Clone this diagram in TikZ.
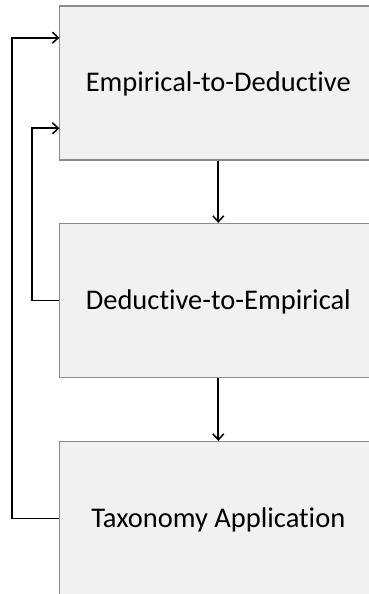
\documentclass[tikz,border=0pt]{standalone}
\usepackage{fontspec}
\setmainfont[Ligatures={NoCommon}]{Carlito}
\usetikzlibrary{arrows.meta}
\definecolor{boxfill}{HTML}{F1F1F1}
\definecolor{boxline}{HTML}{8C8C8C}
\begin{document}
\begin{tikzpicture}[x=1pt,y=-1pt,
  stagebox/.style={draw=boxline,line width=1.2pt,fill=boxfill,rectangle,
    minimum width=317.5pt,minimum height=154pt,inner sep=0pt,
    text height=17pt,text depth=0pt,
    font=\fontsize{28.5}{32}\selectfont},
  flow/.style={draw=black,line width=1.7pt,-{Straight Barb[length=6pt,width=11pt,line width=1.5pt]}}]
\useasboundingbox (0,0) rectangle (369,594);
\clip (0,0) rectangle (369,594);
\node[stagebox] (ed) at (218.3,83) {Empirical-to-Deductive};
\node[stagebox] (de) at (218.3,300.5) {Deductive-to-Empirical};
\node[stagebox] (ta) at (218.3,518.5) {Taxonomy Application};
\coordinate (inA) at (59.5,128.3);
\coordinate (inB) at (59.5,37.7);
\draw[flow] (ed.south) -- (de.north);
\draw[flow] (de.south) -- (ta.north);
\draw[flow] (de.west) -- (32.3,300.5) -- (32.3,128.3) -- (inA);
\draw[flow] (ta.west) -- (11.7,518.5) -- (11.7,37.7) -- (inB);
\end{tikzpicture}
\end{document}
